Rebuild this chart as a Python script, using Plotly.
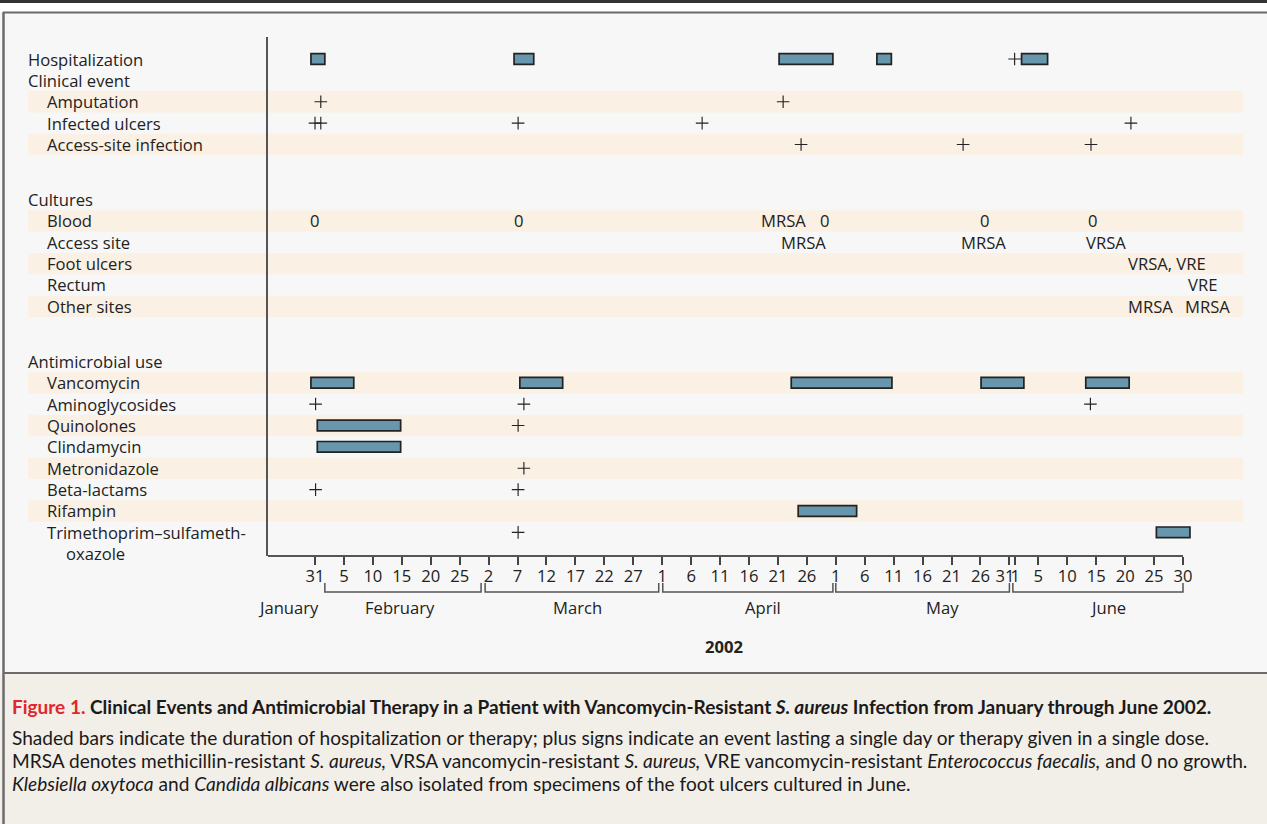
import datetime as dt
import plotly.graph_objects as go

YEAR = 2002
W, H = 1267, 824

def doy(m, d):
    return dt.date(YEAR, m, d).timetuple().tm_yday

# ---------------- data ----------------
row_labels = ["Hospitalization", "Clinical event", "Amputation", "Infected ulcers",
              "Access-site infection", "Cultures", "Blood", "Access site", "Foot ulcers",
              "Rectum", "Other sites", "Antimicrobial use", "Vancomycin", "Aminoglycosides",
              "Quinolones", "Clindamycin", "Metronidazole", "Beta-lactams", "Rifampin",
              "Trimethoprim–sulfameth-"]
row_indent = [0, 0, 1, 1, 1, 0, 1, 1, 1, 1, 1, 0, 1, 1, 1, 1, 1, 1, 1, 1]
row_section = [0, 0, 0, 0, 0, 1, 1, 1, 1, 1, 1, 2, 2, 2, 2, 2, 2, 2, 2, 2]
striped_rows = ["Amputation", "Access-site infection", "Blood", "Foot ulcers", "Other sites",
                "Vancomycin", "Quinolones", "Metronidazole", "Rifampin"]

# durations (day of year, start -> end)
bar_rows = ["Hospitalization"] * 5 + ["Vancomycin"] * 5 + ["Quinolones", "Clindamycin",
            "Rifampin", "Trimethoprim–sulfameth-"]
bar_start = [30.3, 65.4, 111.2, 128.1, 153.1,
             30.3, 66.4, 113.3, 146.1, 164.2,
             31.4, 31.4, 114.5, 176.4]
bar_end = [32.7, 68.8, 120.5, 130.6, 157.6,
           37.7, 73.8, 130.7, 153.5, 171.7,
           45.8, 45.8, 124.6, 182.2]

# single-day events (day of year)
event_rows = (["Hospitalization"] + ["Amputation"] * 2 + ["Infected ulcers"] * 5
              + ["Access-site infection"] * 3 + ["Aminoglycosides"] * 3 + ["Quinolones"]
              + ["Metronidazole"] + ["Beta-lactams"] * 2 + ["Trimethoprim–sulfameth-"])
event_day = ([151.9] + [32.0, 111.9] + [31.0, 32.0, 66.1, 97.9, 172.0]
             + [115.0, 143.0, 165.1] + [31.1, 67.1, 165.0] + [66.1]
             + [67.1] + [31.1, 66.1] + [66.1])

# culture results
culture_rows = (["Blood"] * 6 + ["Access site"] * 3 + ["Foot ulcers"] + ["Rectum"]
                + ["Other sites"] * 2)
culture_day = ([31.0, 66.3, 112.0, 119.1, 146.8, 165.5] + [115.4, 146.6, 167.7] + [178.3]
               + [184.3] + [175.3, 185.3])
culture_text = (["0", "0", "MRSA", "0", "0", "0"] + ["MRSA", "MRSA", "VRSA"] + ["VRSA, VRE"]
                + ["VRE"] + ["MRSA", "MRSA"])

# axis ticks (month, day)
tick_md = ([(1, 31)] + [(2, d) for d in (5, 10, 15, 20, 25)]
           + [(3, d) for d in (2, 7, 12, 17, 22, 27)]
           + [(4, d) for d in (1, 6, 11, 16, 21, 26)]
           + [(5, d) for d in (1, 6, 11, 16, 21, 26, 31)]
           + [(6, d) for d in (1, 5, 10, 15, 20, 25, 30)])
months = ["January", "February", "March", "April", "May", "June"]
month_label_day = [26.5, 45.7, 76.4, 108.4, 139.5, 168.0]
bracket_start = [32.7, 60.4, 91.1, 121.0, 151.6]
bracket_end = [59.7, 90.4, 120.5, 151.0, 181.0]

# ---------------- layout helpers ----------------
SECTION_GAP = 1.57
row_y = {lab: i + SECTION_GAP * s for i, (lab, s) in enumerate(zip(row_labels, row_section))}

X0_PX, X1_PX = 268, 1243
PX_PER_DAY = 868 / 150.0
x_lo = 31 - (315 - X0_PX) / PX_PER_DAY
x_hi = 31 + (X1_PX - 315) / PX_PER_DAY
Y_TOP_PX, Y_BOT_PX = 37, 556
ROW_PX = 21.38
ROW0_PX = 59
y_top = (Y_TOP_PX - ROW0_PX) / ROW_PX
y_bot = (Y_BOT_PX - ROW0_PX) / ROW_PX

def px(x):
    return x / W

def py(y):
    return 1 - y / H

FONT = "Open Sans"
FS = 16.6
TXT = "#222222"
BAR_FILL = "#6897ad"
STRIPE = "#faf0e3"
PANEL = "#f7f7f7"
CAPTION_BG = "#f2eee8"
BORDER = "#6b6b6b"

fig = go.Figure()

# bars
fig.add_trace(go.Bar(
    orientation="h",
    y=[row_y[r] for r in bar_rows],
    base=bar_start,
    x=[e - s for s, e in zip(bar_start, bar_end)],
    width=0.5,
    marker=dict(color=BAR_FILL, line=dict(color="#222222", width=1.7)),
    hoverinfo="skip", showlegend=False,
))

# single-day events
fig.add_trace(go.Scatter(
    x=event_day, y=[row_y[r] for r in event_rows], mode="markers",
    marker=dict(symbol="cross-thin", size=9, line=dict(color="#222222", width=1.15)),
    hoverinfo="skip", showlegend=False, cliponaxis=False,
))

shapes = []
# background frame
shapes.append(dict(type="rect", xref="paper", yref="paper", x0=0, x1=1, y0=py(673), y1=py(12),
                   fillcolor=PANEL, line=dict(width=0), layer="below"))
shapes.append(dict(type="rect", xref="paper", yref="paper", x0=0, x1=1, y0=0, y1=py(673),
                   fillcolor=CAPTION_BG, line=dict(width=0), layer="below"))
shapes.append(dict(type="line", xref="paper", yref="paper", x0=0, x1=1, y0=py(1.5), y1=py(1.5),
                   line=dict(color="#333333", width=3)))
shapes.append(dict(type="line", xref="paper", yref="paper", x0=px(3), x1=1, y0=py(12.5), y1=py(12.5),
                   line=dict(color=BORDER, width=2)))
shapes.append(dict(type="line", xref="paper", yref="paper", x0=px(3), x1=1, y0=py(673), y1=py(673),
                   line=dict(color=BORDER, width=2)))
shapes.append(dict(type="line", xref="paper", yref="paper", x0=px(3.5), x1=px(3.5), y0=0, y1=py(12),
                   line=dict(color=BORDER, width=2.5)))

# stripes
for r in striped_rows:
    yc = row_y[r]
    shapes.append(dict(type="rect", xref="paper", yref="y", x0=px(28), x1=px(1243),
                       y0=yc - 0.5, y1=yc + 0.5, fillcolor=STRIPE, line=dict(width=0),
                       layer="below"))

# x axis line (ends at last tick)
shapes.append(dict(type="line", xref="x", yref="paper", x0=x_lo, x1=doy(6, 30),
                   y0=py(Y_BOT_PX), y1=py(Y_BOT_PX), line=dict(color="#555555", width=2)))

# month brackets
BR_Y, BR_TOP = 592, 583
for s, e in zip(bracket_start, bracket_end):
    shapes.append(dict(type="path", xref="x", yref="paper",
                       path=f"M {s},{py(BR_TOP)} L {s},{py(BR_Y)} L {e},{py(BR_Y)} L {e},{py(BR_TOP)}",
                       line=dict(color="#555555", width=1.5)))

annotations = []
for lab, ind in zip(row_labels, row_indent):
    annotations.append(dict(xref="paper", yref="y", x=px(47 if ind else 28), y=row_y[lab],
                            text=lab, showarrow=False, xanchor="left", yanchor="middle",
                            xshift=-2, font=dict(family=FONT, size=FS, color=TXT)))
annotations.append(dict(xref="paper", yref="y", x=px(66), y=row_y["Trimethoprim–sulfameth-"] + 0.97,
                        text="oxazole", showarrow=False, xanchor="left", yanchor="middle",
                        xshift=-2, font=dict(family=FONT, size=FS, color=TXT)))

# culture results, placed on the data axes
for r, d, t in zip(culture_rows, culture_day, culture_text):
    annotations.append(dict(xref="x", yref="y", x=d, y=row_y[r], text=t, showarrow=False,
                            xanchor="center", yanchor="middle",
                            font=dict(family=FONT, size=FS, color=TXT)))

for m, d in zip(months, month_label_day):
    annotations.append(dict(xref="x", yref="paper", x=d, y=py(607), text=m, showarrow=False,
                            xanchor="center", yanchor="middle",
                            font=dict(family=FONT, size=FS, color=TXT)))
annotations.append(dict(xref="paper", yref="paper", x=px(724), y=py(646), text="<b>2002</b>",
                        showarrow=False, xanchor="center", yanchor="middle",
                        font=dict(family=FONT, size=FS, color=TXT)))

CAP_FONT = "Lato"
cap_title = ("<b><span style='color:#e2262c'>Figure 1.</span> Clinical Events and Antimicrobial "
             "Therapy in a Patient with Vancomycin-Resistant <i>S. aureus</i> Infection from "
             "January through June 2002.</b>")
cap_lines = [
    "Shaded bars indicate the duration of hospitalization or therapy; plus signs indicate an event "
    "lasting a single day or therapy given in a single dose.",
    "MRSA denotes methicillin-resistant <i>S. aureus,</i> VRSA vancomycin-resistant <i>S. aureus,</i> "
    "VRE vancomycin-resistant <i>Enterococcus faecalis,</i> and 0 no growth.",
    "<i>Klebsiella oxytoca</i> and <i>Candida albicans</i> were also isolated from specimens of the "
    "foot ulcers cultured in June.",
]
annotations.append(dict(xref="paper", yref="paper", x=px(10), y=py(706), text=cap_title,
                        showarrow=False, xanchor="left", yanchor="middle",
                        font=dict(family=CAP_FONT, size=19, color="#1a1a1a")))
for i, line in enumerate(cap_lines):
    annotations.append(dict(xref="paper", yref="paper", x=px(10), y=py(737 + 23 * i), text=line,
                            showarrow=False, xanchor="left", yanchor="middle",
                            font=dict(family=CAP_FONT, size=19.1, color="#1a1a1a")))

tickvals = [doy(m, d) for m, d in tick_md]
# May 31 label nudged left (non-breaking padding) so it does not run into June 1
ticktext = [str(d) + ("\u00a0\u00a0" if (m, d) == (5, 31) else "") for m, d in tick_md]

fig.update_layout(
    width=W, height=H, autosize=False,
    margin=dict(l=0, r=0, t=0, b=0),
    paper_bgcolor="white", plot_bgcolor="rgba(0,0,0,0)",
    barmode="overlay",
    shapes=shapes, annotations=annotations,
    xaxis=dict(domain=[px(X0_PX), px(X1_PX)], range=[x_lo, x_hi], showgrid=False, zeroline=False,
               showline=False, tickmode="array", tickvals=tickvals, ticktext=ticktext,
               ticks="outside", ticklen=8, tickwidth=1.5, tickcolor="#444444", tickangle=0,
               ticklabelstandoff=-3,
               tickfont=dict(family=FONT, size=FS, color=TXT), fixedrange=True),
    yaxis=dict(domain=[py(Y_BOT_PX), py(Y_TOP_PX)], range=[y_bot, y_top], showgrid=False,
               zeroline=False, showticklabels=False, ticks="", showline=True,
               linecolor="#555555", linewidth=2, fixedrange=True),
)

fig.write_html("out.html", config={"displayModeBar": False},
               post_script="document.body.style.margin='0';"
                           "document.body.style.overflow='hidden';")
